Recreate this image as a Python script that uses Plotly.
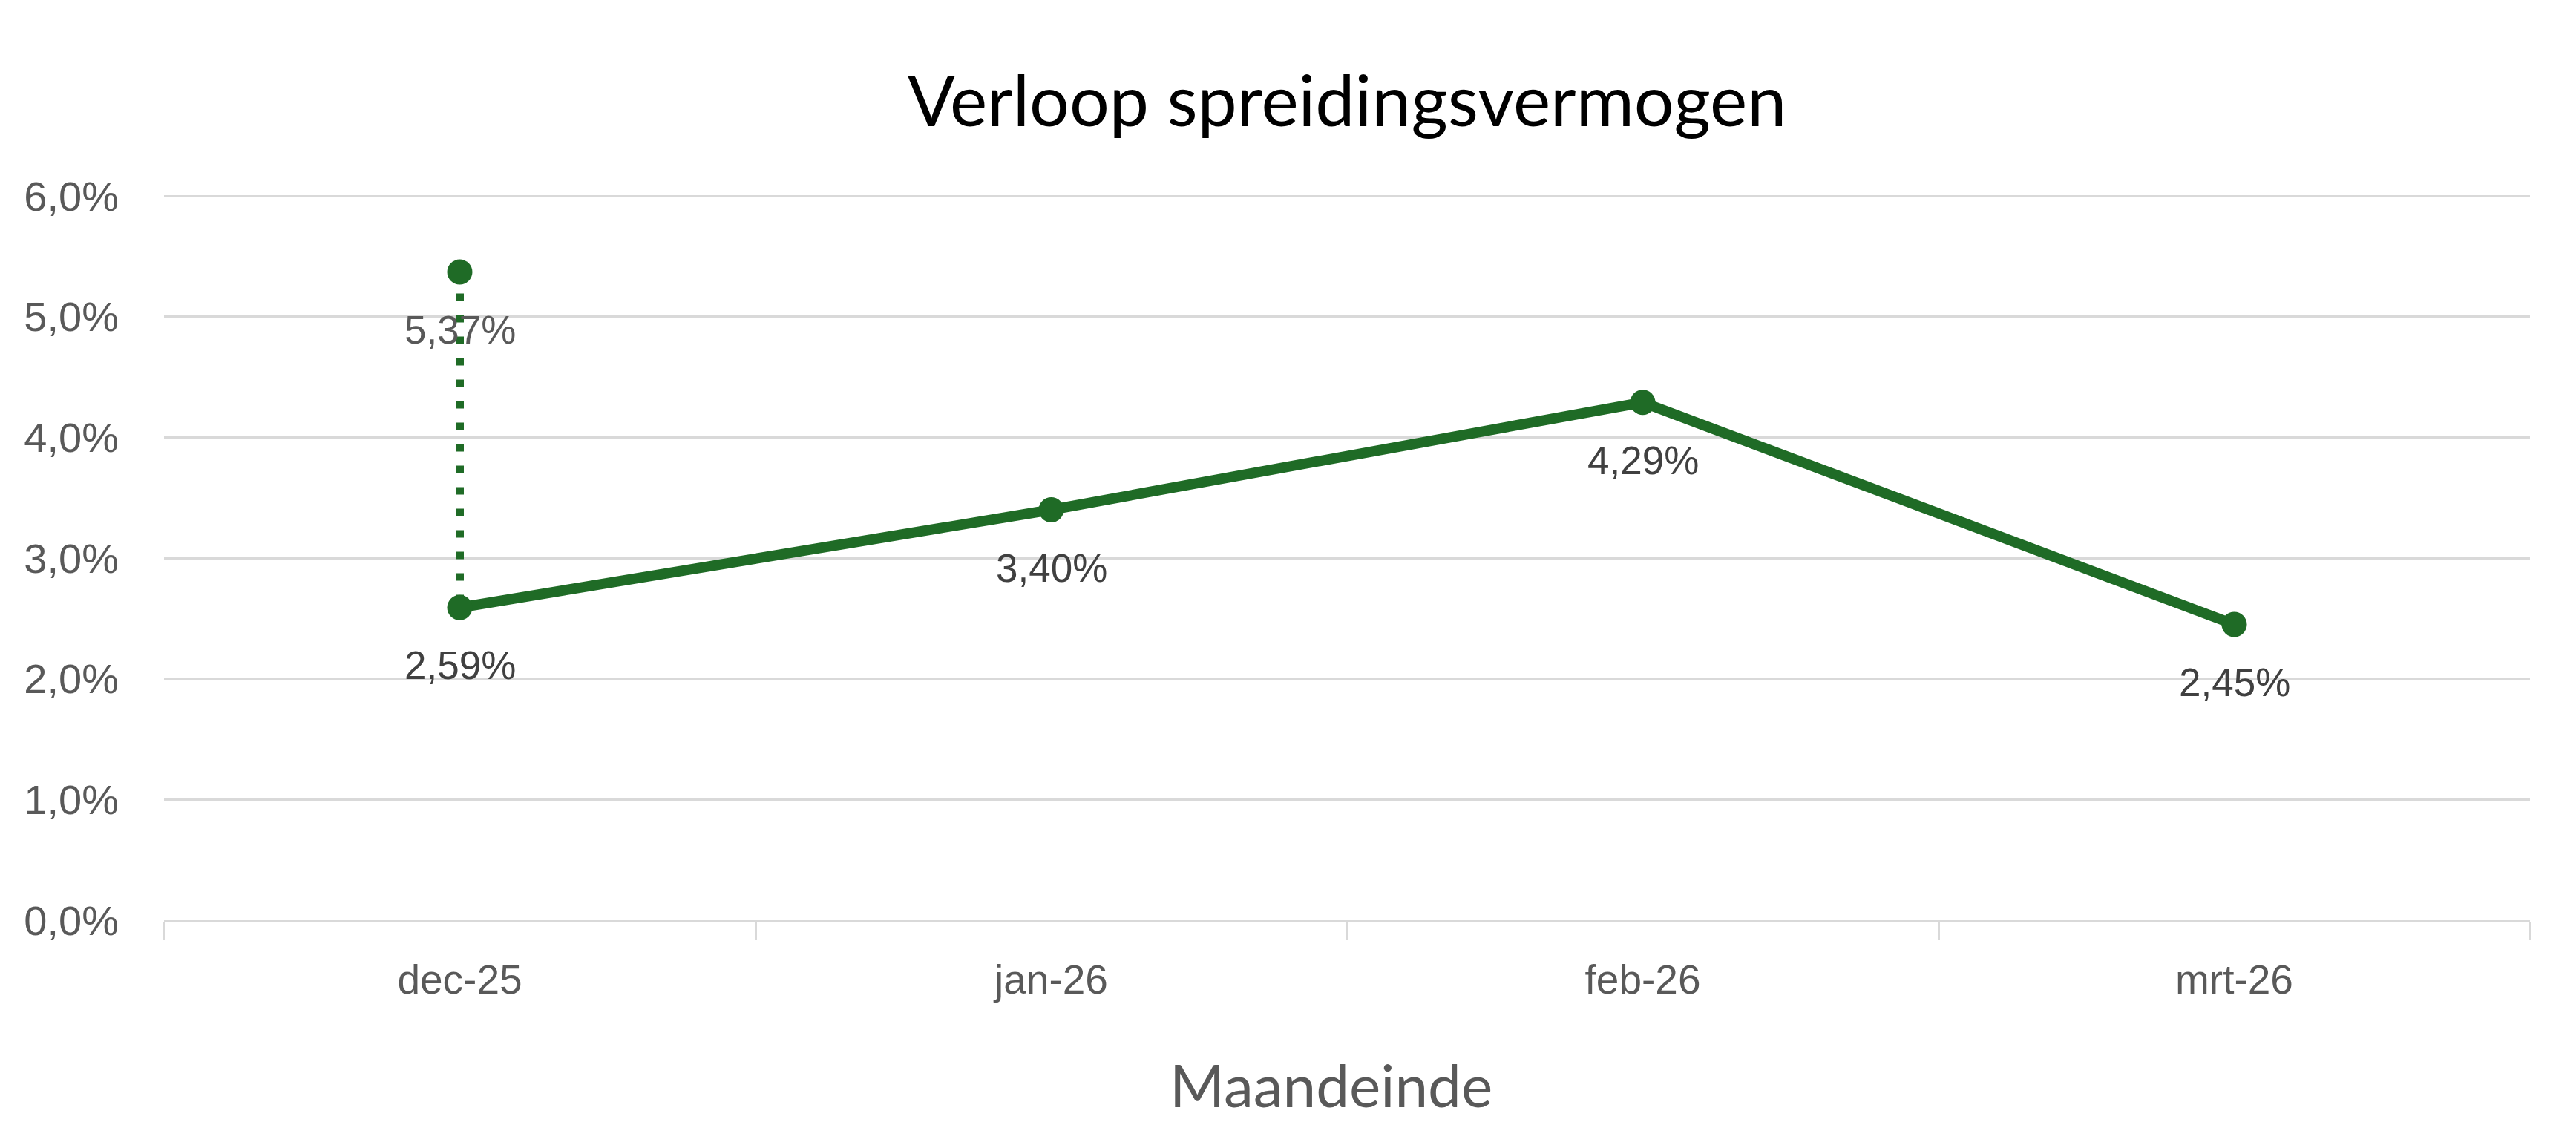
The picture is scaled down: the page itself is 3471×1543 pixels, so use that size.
import plotly.graph_objects as go

months = ["dec-25", "jan-26", "feb-26", "mrt-26"]
spreiding = [2.59, 3.40, 4.29, 2.45]
spreiding_labels = ["2,59%", "3,40%", "4,29%", "2,45%"]

extra_x = ["dec-25", "dec-25"]
extra_y = [5.37, 2.59]
extra_label = "5,37%"

y_ticks = [0, 1, 2, 3, 4, 5, 6]
y_tick_labels = ["0,0%", "1,0%", "2,0%", "3,0%", "4,0%", "5,0%", "6,0%"]

GREEN = "#1f6b26"
LABEL_FONT = "Liberation Sans, Arial"

fig = go.Figure()

fig.add_trace(go.Scatter(
    x=extra_x, y=extra_y, mode="lines",
    line=dict(color=GREEN, width=11, dash="10px,19px"),
    showlegend=False, hoverinfo="skip",
))
fig.add_trace(go.Scatter(
    x=extra_x[:1], y=extra_y[:1], mode="markers",
    marker=dict(color=GREEN, size=34, opacity=1),
    showlegend=False, hoverinfo="skip", cliponaxis=False,
))

fig.add_trace(go.Scatter(
    x=months, y=spreiding, mode="lines+markers",
    line=dict(color=GREEN, width=14),
    marker=dict(color=GREEN, size=34, opacity=1),
    cliponaxis=False, showlegend=False, hoverinfo="skip",
))

for m, v, t in zip(months, spreiding, spreiding_labels):
    fig.add_annotation(x=m, y=v, text=t, showarrow=False, yshift=-78,
                       xanchor="center", yanchor="middle",
                       font=dict(family=LABEL_FONT, size=53, color="#404040"))
fig.add_annotation(x=extra_x[0], y=extra_y[0], text=extra_label, showarrow=False, yshift=-78,
                   xanchor="center", yanchor="middle",
                   font=dict(family=LABEL_FONT, size=53, color="#595959"))

fig.add_annotation(text="Maandeinde", xref="paper", yref="paper",
                   x=0.4931, y=(1240 - 1461) / 984, xanchor="center", yanchor="middle", showarrow=False,
                   font=dict(family="Lato", size=80, color="#595959"))

fig.update_layout(
    width=3471, height=1543,
    margin=dict(l=221, r=62, t=256, b=303),
    paper_bgcolor="white", plot_bgcolor="white",
    title=dict(
        text="Verloop spreidingsvermogen",
        font=dict(family="Lato", size=95, color="black"),
        x=0.5229, xanchor="center", y=1 - 137 / 1543, yanchor="middle",
    ),
)

fig.update_xaxes(
    type="category", categoryorder="array", categoryarray=months,
    range=[-0.5, 3.5],
    showline=True, linecolor="#d9d9d9", linewidth=3,
    ticks="outside", tickson="boundaries", ticklen=24, tickwidth=3, tickcolor="#d9d9d9",
    tickfont=dict(family=LABEL_FONT, size=55, color="#595959"),
    ticklabelstandoff=30,
    showgrid=False, zeroline=False,
)

fig.update_yaxes(
    range=[0, 6.05], tickmode="array", tickvals=y_ticks, ticktext=y_tick_labels,
    showgrid=True, gridcolor="#d9d9d9", gridwidth=3,
    zeroline=False, showline=False, ticks="",
    tickfont=dict(family=LABEL_FONT, size=56, color="#595959"),
    ticklabelstandoff=60,
)

fig.write_html("out.html")
